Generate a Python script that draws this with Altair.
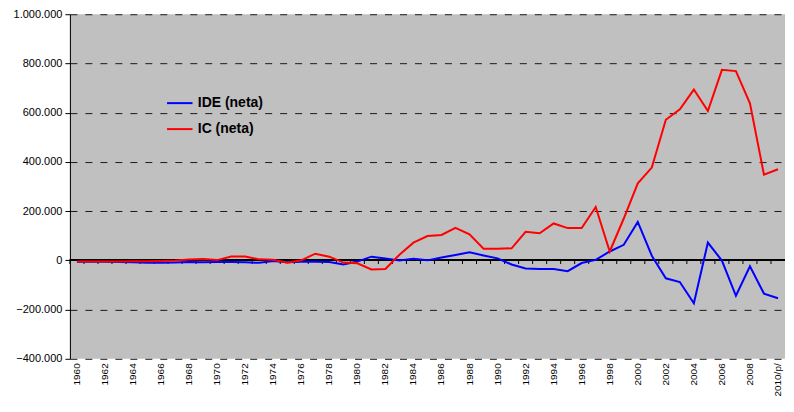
import altair as alt
import pandas as pd

years = [str(y) for y in range(1960, 2010)] + ["2010/p/"]

ide = [-6000, -6000, -6000, -7000, -8000, -10000, -10000, -9000, -7000, -8000,
       -7000, -7000, -8000, -10000, -3000, -8000, -6000, -6000, -7000, -17000,
       -5000, 15000, 8000, -1000, 6000, 0, 12000, 22000, 33000, 20000,
       8000, -17000, -33000, -35000, -35000, -44000, -11000, 2000, 36000, 63000,
       156000, 19000, -73000, -88000, -174000, 72000, -1000, -144000, -24000, -135000,
       -154000]

ic = [-5000, -5000, -5000, -5000, -4000, -4000, -3000, -1000, 3000, 5000,
      1000, 16000, 16000, 4000, 2000, -10000, 0, 27000, 15000, -9000,
      -12000, -37000, -35000, 23000, 72000, 99000, 103000, 132000, 106000, 47000,
      47000, 49000, 116000, 110000, 150000, 131000, 131000, 217000, 36000, 170000,
      313000, 377000, 571000, 614000, 694000, 607000, 774000, 769000, 638000, 348000,
      370000]

series_names = ["IDE (neta)", "IC (neta)"]
series_colors = ["#0000FF", "#FF0000"]
y_ticks = [-400000, -200000, 0, 200000, 400000, 600000, 800000, 1000000]
x_labels = years[0::2]

df = pd.DataFrame({
    "year": years * 2,
    "value": ide + ic,
    "serie": [series_names[0]] * len(years) + [series_names[1]] * len(years),
})
ticks_df = pd.DataFrame({"year": years})

FONT = "Liberation Sans"

xscale = alt.Scale(type="band", domain=years, paddingInner=0, paddingOuter=0)
yscale = alt.Scale(domain=[-400000, 1000000], nice=False, zero=False)
cscale = alt.Scale(domain=series_names, range=series_colors)

x_enc = alt.X(
    "year:O", scale=xscale, sort=years, title=None,
    axis=alt.Axis(values=x_labels, labelAngle=-90, domain=False, ticks=False,
                  grid=False, labelFont=FONT, labelFontSize=10,
                  labelColor="black", labelPadding=4),
)
y_enc = alt.Y(
    "value:Q", scale=yscale, title=None,
    axis=alt.Axis(values=y_ticks, grid=True, gridColor="#1a1a1a",
                  gridDash=[7, 8], gridWidth=1, domainColor="black",
                  tickColor="black", tickSize=5, labelFont=FONT,
                  labelFontSize=11, labelColor="black", labelPadding=3,
                  labelExpr="replace(format(datum.value, ',d'), regexp(',', 'g'), '.')"),
)

color_enc = alt.Color(
    "serie:N", scale=cscale, sort=series_names, title=None,
    legend=alt.Legend(orient="none", legendX=96, legendY=75,
                      symbolType="stroke", symbolSize=650,
                      symbolStrokeWidth=2, labelFont=FONT, labelFontSize=14,
                      labelFontWeight="bold", labelColor="black",
                      labelOffset=4, rowPadding=5),
)

zero_rule = alt.Chart(ticks_df).mark_rule(color="black", strokeWidth=1).encode(
    y=alt.datum(0, scale=yscale)
)
zero_ticks = alt.Chart(ticks_df).mark_rule(color="black", strokeWidth=1).encode(
    x=alt.X("year:O", scale=xscale, sort=years, bandPosition=0),
    y=alt.datum(0, scale=yscale),
    y2=alt.datum(-15000),
)

line_ide = alt.Chart(df).transform_filter(
    alt.datum.serie == series_names[0]
).mark_line(strokeWidth=2).encode(x=x_enc, y=y_enc, color=color_enc)

line_ic = alt.Chart(df).transform_filter(
    alt.datum.serie == series_names[1]
).mark_line(strokeWidth=2).encode(x=x_enc, y=y_enc, color=color_enc)

chart = alt.layer(zero_rule, zero_ticks, line_ide, line_ic).properties(
    width=716, height=345,
    padding={"left": 5, "top": 0, "right": 0, "bottom": 0},
    background="white",
).configure_view(fill="#C0C0C0", stroke=None)

chart.save("out.html", embed_options={"renderer": "svg", "actions": False})
